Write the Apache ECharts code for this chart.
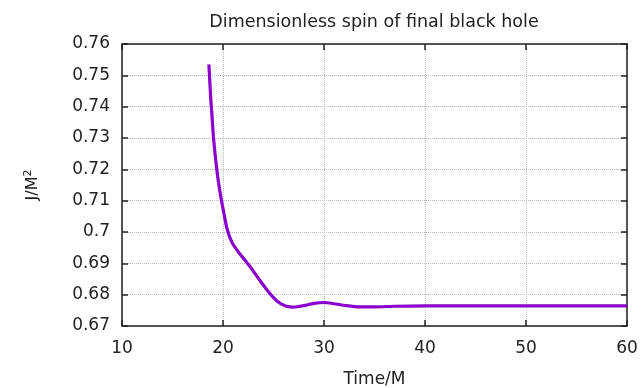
<!DOCTYPE html>
<html>
<head>
<meta charset="utf-8">
<script src="https://cdn.jsdelivr.net/npm/echarts@6/dist/echarts.min.js"></script>
<style>
html,body{margin:0;padding:0;background:#fff;}
#chart{width:643px;height:388px;}
</style>
</head>
<body>
<div id="chart"></div>
<script>
// Time/M values
var times = [18.6, 18.66, 18.78, 18.88, 19.05, 19.21, 19.44, 19.65, 19.87, 20.1, 20.4, 20.9, 21.6, 22.6, 23.6, 24.6, 25.4, 26.2, 27.0, 28.0, 29.0, 30.0, 31.0, 32.2, 33.5, 35, 37, 40, 45, 50, 55, 60];
// Dimensionless spin J/M^2
var spin = [0.7535, 0.7500, 0.7430, 0.7384, 0.7305, 0.7250, 0.7185, 0.7138, 0.7097, 0.7058, 0.7010, 0.6966, 0.6933, 0.6893, 0.6848, 0.6805, 0.6778, 0.6764, 0.6760, 0.6765, 0.6772, 0.6775, 0.6771, 0.6765, 0.6761, 0.6761, 0.6763, 0.6764, 0.6764, 0.6764, 0.6764, 0.6764];
var xTicks = [10, 20, 30, 40, 50, 60];
var yTicks = [0.67, 0.68, 0.69, 0.70, 0.71, 0.72, 0.73, 0.74, 0.75, 0.76];

var FONT = 'DejaVu Sans';
var data = times.map(function (t, i) { return [t, spin[i]]; });

var chart = echarts.init(document.getElementById('chart'), null, {renderer: 'canvas'});
var frame = {show: true, lineStyle: {color: '#222', width: 1.5}};
var grid = {type: 'dotted', color: '#bbb', width: 1};
var tick = {show: true, inside: true, length: 6, lineStyle: {color: '#222', width: 1.5}};
chart.setOption({
  animation: false,
  backgroundColor: '#fff',
  title: {
    text: 'Dimensionless spin of final black hole',
    left: 369, top: 8, textAlign: 'center',
    textStyle: {fontFamily: FONT, fontSize: 17.5, fontWeight: 'normal', color: '#222'}
  },
  grid: {left: 122, right: 16, top: 44, bottom: 62, outerBoundsMode: 'none', containLabel: false},
  xAxis: [{
    type: 'value', min: xTicks[0], max: xTicks[xTicks.length - 1], interval: 10,
    name: 'Time/M', nameLocation: 'middle', nameGap: 45,
    nameTextStyle: {fontFamily: FONT, fontSize: 17, color: '#222'},
    axisLine: frame, axisTick: tick,
    axisLabel: {fontFamily: FONT, fontSize: 17, color: '#222', margin: 14},
    splitLine: {show: true, lineStyle: grid}
  }, {
    type: 'value', position: 'top', min: xTicks[0], max: xTicks[xTicks.length - 1], interval: 10,
    axisLine: frame, axisTick: tick,
    axisLabel: {show: false}, splitLine: {show: false}
  }],
  yAxis: [{
    type: 'value', min: yTicks[0], max: yTicks[yTicks.length - 1], interval: 0.01,
    name: '{a|J/M}{s|2}', nameLocation: 'middle', nameGap: 80, nameRotate: 90,
    nameTextStyle: {
      fontFamily: FONT, fontSize: 16, color: '#222',
      rich: {
        a: {fontFamily: FONT, fontSize: 16, color: '#222'},
        s: {fontFamily: FONT, fontSize: 11, color: '#222', verticalAlign: 'top', padding: [0, 0, 8, 0]}
      }
    },
    axisLine: frame, axisTick: tick,
    axisLabel: {fontFamily: FONT, fontSize: 17, color: '#222', margin: 12,
      formatter: function (v) { return String(parseFloat(v.toFixed(2))); }},
    splitLine: {show: true, lineStyle: grid}
  }, {
    type: 'value', position: 'right', min: yTicks[0], max: yTicks[yTicks.length - 1], interval: 0.01,
    axisLine: frame, axisTick: tick,
    axisLabel: {show: false}, splitLine: {show: false}
  }],
  series: [{
    type: 'line', xAxisIndex: 0, yAxisIndex: 0,
    data: data, showSymbol: false, smooth: 0.2,
    lineStyle: {color: '#8a00cc', width: 3.2}
  }]
});
</script>
</body>
</html>
